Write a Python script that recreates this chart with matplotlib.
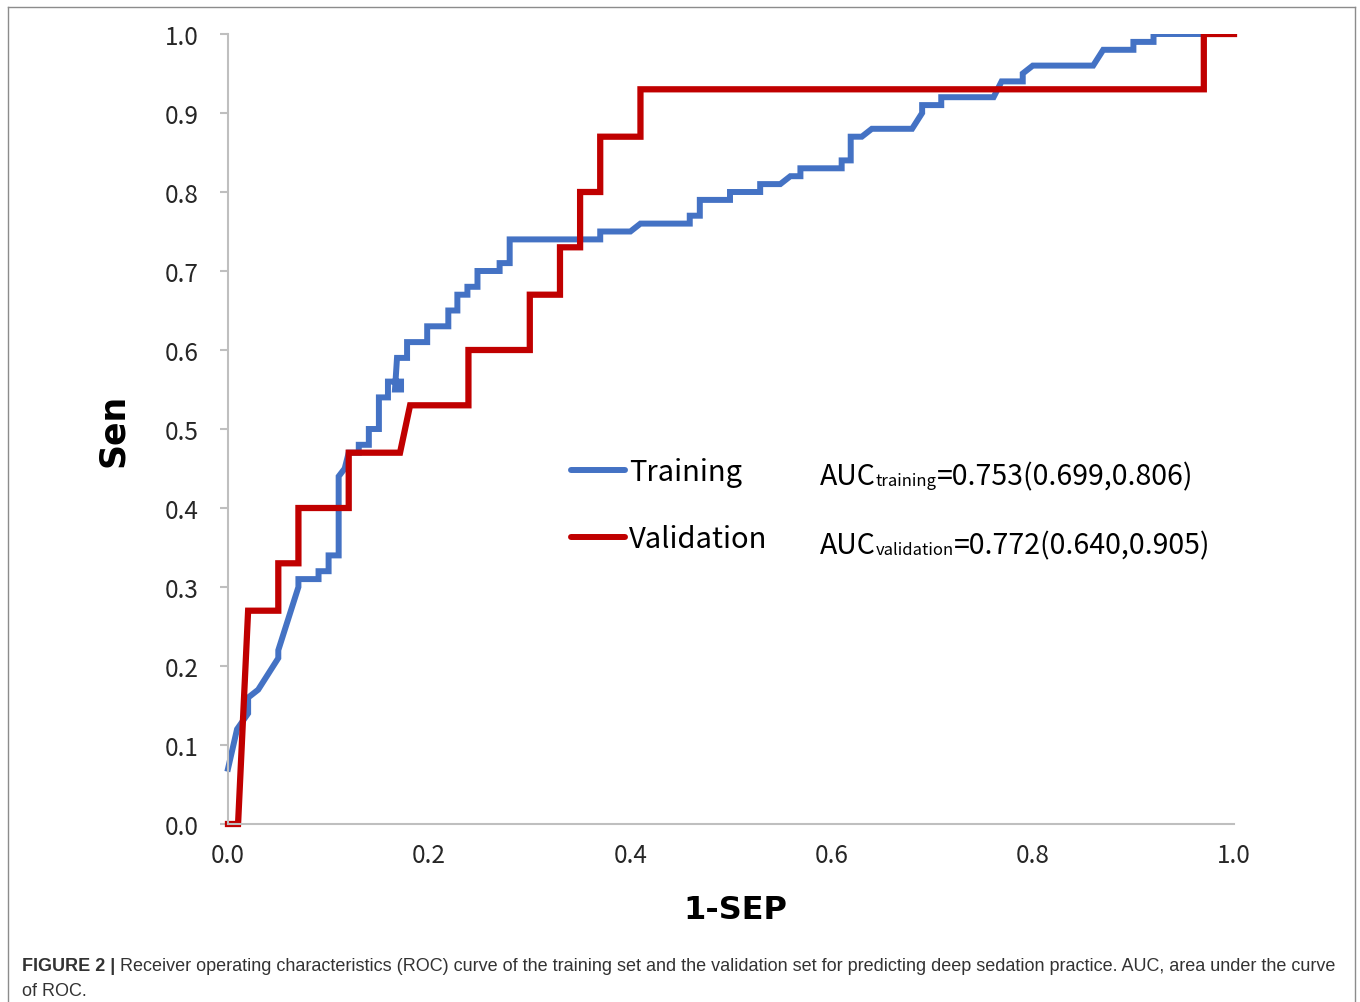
import numpy as np
import matplotlib
matplotlib.use("Agg")
import matplotlib.pyplot as plt
from matplotlib.lines import Line2D
from matplotlib.patches import Rectangle

# ==============================
# DATA
# ==============================
train_fpr = [0.00, 0.009, 0.02, 0.02, 0.03, 0.05, 0.05, 0.07, 0.07, 0.09, 0.09, 0.10, 0.10,
             0.11, 0.11, 0.116, 0.12, 0.13, 0.13, 0.14, 0.14, 0.15, 0.15, 0.159, 0.159,
             0.172, 0.172, 0.166, 0.168, 0.178, 0.178, 0.198, 0.198, 0.211, 0.219, 0.219,
             0.228, 0.228, 0.238, 0.238, 0.248, 0.248, 0.27, 0.27, 0.28, 0.28, 0.37, 0.37,
             0.40, 0.41, 0.459, 0.459, 0.469, 0.469, 0.499, 0.499, 0.529, 0.529, 0.549,
             0.559, 0.569, 0.569, 0.61, 0.61, 0.619, 0.619, 0.63, 0.64, 0.68, 0.69, 0.69,
             0.709, 0.709, 0.761, 0.769, 0.79, 0.79, 0.80, 0.86, 0.87, 0.90, 0.90, 0.92,
             0.92, 1.00]
train_tpr = [0.07, 0.12, 0.14, 0.16, 0.17, 0.21, 0.22, 0.30, 0.31, 0.31, 0.32, 0.32, 0.34,
             0.34, 0.44, 0.45, 0.47, 0.47, 0.48, 0.48, 0.50, 0.50, 0.54, 0.54, 0.56,
             0.56, 0.55, 0.55, 0.59, 0.59, 0.61, 0.61, 0.63, 0.63, 0.63, 0.65,
             0.65, 0.67, 0.67, 0.68, 0.68, 0.70, 0.70, 0.71, 0.71, 0.74, 0.74, 0.75,
             0.75, 0.76, 0.76, 0.77, 0.77, 0.79, 0.79, 0.80, 0.80, 0.81, 0.81,
             0.82, 0.82, 0.83, 0.83, 0.84, 0.84, 0.87, 0.87, 0.88, 0.88, 0.90, 0.91,
             0.91, 0.92, 0.92, 0.94, 0.94, 0.95, 0.96, 0.96, 0.98, 0.98, 0.99, 0.99,
             1.00, 1.00]

valid_fpr = [0.00, 0.01, 0.02, 0.05, 0.05, 0.07, 0.07, 0.12, 0.12, 0.171, 0.181, 0.239, 0.239,
             0.30, 0.30, 0.33, 0.33, 0.35, 0.35, 0.37, 0.37, 0.41, 0.41, 0.97, 0.97, 1.00]
valid_tpr = [0.00, 0.00, 0.27, 0.27, 0.33, 0.33, 0.40, 0.40, 0.47, 0.47, 0.53, 0.53, 0.60,
             0.60, 0.67, 0.67, 0.73, 0.73, 0.80, 0.80, 0.87, 0.87, 0.93, 0.93, 1.00, 1.00]

series_names = ["Training", "Validation"]
auc_sub = ["training", "validation"]
auc_vals = ["=0.753(0.699,0.806)", "=0.772(0.640,0.905)"]

y_ticks = np.arange(0, 1.01, 0.1)
x_ticks = np.arange(0, 1.01, 0.2)

caption_bold = "FIGURE 2 |"
caption_rest = (" Receiver operating characteristics (ROC) curve of the training set and the "
                "validation set for predicting deep sedation practice. AUC, area under the curve")
caption_line2 = "of ROC."

# ==============================
# FIGURE
# ==============================
BLUE = "#4472C4"
RED = "#C00000"
AXIS_GRAY = "#BFBFBF"
LABEL_FONT = ["Noto Sans CJK SC", "DejaVu Sans"]
CAP_FONT = ["Liberation Sans Narrow", "Liberation Sans", "DejaVu Sans"]

W, H = 1360, 1003
fig = plt.figure(figsize=(W / 100, H / 100), dpi=100)
ax = fig.add_axes([228 / W, 1 - 825 / H, (1234 - 228) / W, (825 - 35) / H])

clip = Rectangle((-0.02, -0.02), 1.04, 1.02, transform=ax.transData)
l1, = ax.plot(train_fpr, train_tpr, color=BLUE, lw=4.3, solid_joinstyle="miter",
              label=series_names[0])
l2, = ax.plot(valid_fpr, valid_tpr, color=RED, lw=4.5, solid_joinstyle="miter",
              label=series_names[1])
for ln in (l1, l2):
    ln.set_clip_path(clip)

ax.set_xlim(0, 1)
ax.set_ylim(0, 1)
ax.set_yticks(y_ticks)
ax.set_yticklabels([f"{v:.1f}" for v in y_ticks])
ax.set_xticks(x_ticks)
ax.set_xticklabels([f"{v:.1f}" for v in x_ticks])
for lab in ax.get_xticklabels() + ax.get_yticklabels():
    lab.set_family(LABEL_FONT)
    lab.set_fontsize(17.5)
    lab.set_color("#262626")
ax.tick_params(axis="y", direction="out", length=6, width=1.5, color=AXIS_GRAY, pad=15)
ax.tick_params(axis="x", length=0, pad=13)

for s in ("top", "right"):
    ax.spines[s].set_visible(False)
for s in ("left", "bottom"):
    ax.spines[s].set_color(AXIS_GRAY)
    ax.spines[s].set_linewidth(1.5)

ax.set_ylabel("Sen", fontsize=25, fontweight="bold", family="DejaVu Sans")
ax.yaxis.set_label_coords(-0.0974, 0.5)
ax.set_xlabel("1-SEP", fontsize=23, fontweight="bold", family="DejaVu Sans")
ax.xaxis.set_label_coords(0.504, -0.1076)
ax.xaxis.label.set_va("center")

leg = ax.legend(loc="upper left", bbox_to_anchor=(0.341, 0.4645), frameon=False,
                handlelength=1.85, handletextpad=0.15, labelspacing=1.27,
                prop={"family": LABEL_FONT, "size": 21}, borderaxespad=0, borderpad=0)
for h in leg.get_lines():
    h.set_linewidth(4.3)
    h.set_solid_capstyle("round")

# AUC annotations, built from pieces
fig.canvas.draw()
renderer = fig.canvas.get_renderer()
for i, (sub, val) in enumerate(zip(auc_sub, auc_vals)):
    y_base = [485, 554][i]
    x0 = 820
    t = fig.text(x0 / W, 1 - y_base / H, "AUC", fontsize=20.5, family=LABEL_FONT,
                 va="baseline", ha="left")
    bb = t.get_window_extent(renderer)
    t2 = fig.text(bb.x1 / W, 1 - (y_base + 1) / H, sub, fontsize=12, family=LABEL_FONT,
                  va="baseline", ha="left")
    bb2 = t2.get_window_extent(renderer)
    fig.text(bb2.x1 / W, 1 - y_base / H, val, fontsize=20.5, family=LABEL_FONT,
             va="baseline", ha="left")

# outer frame
fcol = "#8C8C8C"
fig.add_artist(Line2D([8 / W, 8 / W], [0, 1 - 8 / H], color=fcol, lw=1))
fig.add_artist(Line2D([8 / W, 1355 / W], [1 - 8 / H, 1 - 8 / H], color=fcol, lw=1))
fig.add_artist(Line2D([1355 / W, 1355 / W], [0, 1 - 8 / H], color=fcol, lw=1))

# caption
cb = fig.text(22 / W, 1 - 971 / H, caption_bold, fontsize=13, fontweight="bold",
              family=CAP_FONT, va="baseline", ha="left", color="#333333")
fig.canvas.draw()
bbc = cb.get_window_extent(renderer)
fig.text(bbc.x1 / W, 1 - 971 / H, caption_rest, fontsize=13, family=CAP_FONT,
         va="baseline", ha="left", color="#333333")
fig.text(22 / W, 1 - 996 / H, caption_line2, fontsize=13, family=CAP_FONT,
         va="baseline", ha="left", color="#333333")

fig.savefig("out.png", dpi=100)
